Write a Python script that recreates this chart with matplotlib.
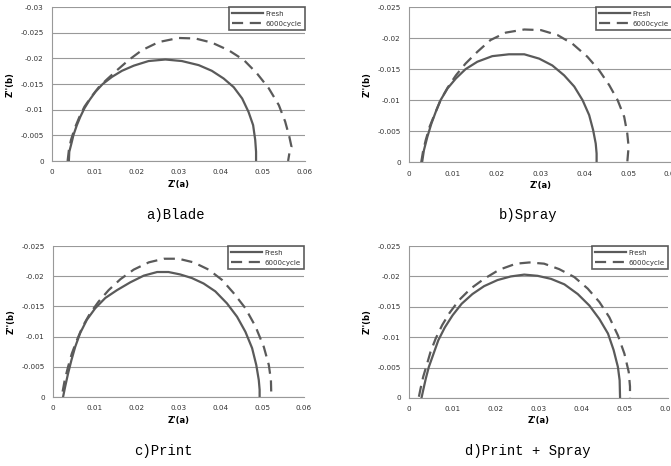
import matplotlib
matplotlib.use("Agg")
import matplotlib.pyplot as plt

# Nyquist data: Z'(a) and Z''(b), for each coating method
blade_fresh_x = [0.0040, 0.0041, 0.0046, 0.0051, 0.0059, 0.0067, 0.0077, 0.0089, 0.0103, 0.0120, 0.0142, 0.0166, 0.0194,
                 0.0229, 0.0269, 0.0308, 0.0348, 0.0379, 0.0407, 0.0431, 0.0451, 0.0466, 0.0477, 0.0482, 0.0484, 0.0484]
blade_fresh_y = [0.0, -0.0018, -0.0034, -0.0051, -0.0070, -0.0086, -0.0103, -0.0119, -0.0135, -0.0150, -0.0164, -0.0176, -0.0186,
                 -0.0195, -0.0198, -0.0195, -0.0187, -0.0176, -0.0161, -0.0144, -0.0122, -0.0096, -0.0070, -0.0041, -0.0018, 0.0]
blade_cyc_x = [0.0037, 0.0040, 0.0045, 0.0054, 0.0065, 0.0077, 0.0093, 0.0111, 0.0130, 0.0154, 0.0182, 0.0213, 0.0253,
               0.0300, 0.0340, 0.0379, 0.0419, 0.0455, 0.0486, 0.0514, 0.0538, 0.0553, 0.0563, 0.0568, 0.0563, 0.0560]
blade_cyc_y = [0.0, -0.0021, -0.0041, -0.0064, -0.0086, -0.0106, -0.0125, -0.0144, -0.0159, -0.0177, -0.0197, -0.0216, -0.0232,
               -0.0240, -0.0239, -0.0231, -0.0216, -0.0197, -0.0171, -0.0142, -0.0109, -0.0077, -0.0047, -0.0028, -0.0015, 0.0]

spray_fresh_x = [0.0030, 0.0034, 0.0042, 0.0051, 0.0061, 0.0072, 0.0088, 0.0107, 0.0129, 0.0156, 0.0190, 0.0228,
                 0.0263, 0.0297, 0.0327, 0.0354, 0.0377, 0.0396, 0.0411, 0.0420, 0.0426, 0.0428, 0.0428]
spray_fresh_y = [0.0, -0.0019, -0.0041, -0.0062, -0.0081, -0.0100, -0.0119, -0.0135, -0.0150, -0.0162, -0.0171, -0.0174,
                 -0.0174, -0.0167, -0.0156, -0.0140, -0.0122, -0.0100, -0.0076, -0.0052, -0.0030, -0.0014, 0.0]
spray_cyc_x = [0.0028, 0.0032, 0.0038, 0.0047, 0.0059, 0.0072, 0.0088, 0.0107, 0.0129, 0.0156, 0.0186, 0.0221,
               0.0263, 0.0301, 0.0339, 0.0373, 0.0407, 0.0434, 0.0457, 0.0476, 0.0491, 0.0498, 0.0501, 0.0498]
spray_cyc_y = [0.0, -0.0017, -0.0035, -0.0057, -0.0078, -0.0100, -0.0120, -0.0140, -0.0159, -0.0178, -0.0197, -0.0209,
               -0.0214, -0.0213, -0.0205, -0.0191, -0.0170, -0.0148, -0.0124, -0.0100, -0.0073, -0.0046, -0.0025, 0.0]

print_fresh_x = [0.0024, 0.0029, 0.0036, 0.0044, 0.0053, 0.0065, 0.0081, 0.0101, 0.0125, 0.0153, 0.0185, 0.0217, 0.0249,
                 0.0276, 0.0304, 0.0332, 0.0360, 0.0388, 0.0416, 0.0440, 0.0460, 0.0476, 0.0486, 0.0492, 0.0494, 0.0494]
print_fresh_y = [0.0, -0.0017, -0.0039, -0.0061, -0.0083, -0.0106, -0.0128, -0.0147, -0.0164, -0.0177, -0.0190, -0.0201, -0.0207,
                 -0.0207, -0.0203, -0.0197, -0.0188, -0.0175, -0.0155, -0.0133, -0.0108, -0.0081, -0.0053, -0.0028, -0.0012, 0.0]
print_cyc_x = [0.0023, 0.0028, 0.0036, 0.0045, 0.0057, 0.0071, 0.0089, 0.0109, 0.0133, 0.0161, 0.0193, 0.0229,
               0.0265, 0.0300, 0.0336, 0.0372, 0.0404, 0.0432, 0.0460, 0.0484, 0.0504, 0.0516, 0.0521, 0.0522]
print_cyc_y = [-0.0009, -0.0028, -0.0050, -0.0072, -0.0094, -0.0117, -0.0139, -0.0158, -0.0177, -0.0195, -0.0211, -0.0223,
               -0.0229, -0.0229, -0.0223, -0.0211, -0.0194, -0.0172, -0.0147, -0.0117, -0.0083, -0.0053, -0.0028, 0.0]

ps_fresh_x = [0.0029, 0.0033, 0.0039, 0.0046, 0.0057, 0.0068, 0.0083, 0.0101, 0.0122, 0.0147, 0.0174, 0.0205, 0.0236,
              0.0267, 0.0298, 0.0329, 0.0360, 0.0391, 0.0418, 0.0441, 0.0461, 0.0474, 0.0484, 0.0488, 0.0489]
ps_fresh_y = [0.0, -0.0013, -0.0032, -0.0051, -0.0073, -0.0095, -0.0116, -0.0136, -0.0155, -0.0171, -0.0184, -0.0194, -0.0200,
              -0.0203, -0.0201, -0.0196, -0.0187, -0.0171, -0.0152, -0.0130, -0.0106, -0.0079, -0.0051, -0.0029, 0.0]
ps_cyc_x = [0.0023, 0.0027, 0.0033, 0.0041, 0.0050, 0.0062, 0.0077, 0.0094, 0.0116, 0.0143, 0.0174, 0.0209, 0.0248,
            0.0279, 0.0313, 0.0348, 0.0383, 0.0414, 0.0441, 0.0464, 0.0484, 0.0499, 0.0509, 0.0512, 0.0512]
ps_cyc_y = [-0.0002, -0.0016, -0.0035, -0.0054, -0.0076, -0.0098, -0.0120, -0.0140, -0.0161, -0.0180, -0.0196, -0.0211, -0.0221,
            -0.0223, -0.0221, -0.0212, -0.0199, -0.0180, -0.0158, -0.0133, -0.0103, -0.0073, -0.0043, -0.0019, 0.0]

titles = ["a)Blade", "b)Spray", "c)Print", "d)Print + Spray"]
y_limits = [-0.03, -0.025, -0.025, -0.025]
x_ticks = [0, 0.01, 0.02, 0.03, 0.04, 0.05, 0.06]
x_ticklabels = ["0", "0.01", "0.02", "0.03", "0.04", "0.05", "0.06"]
legend_labels = ["Fresh", "6000cycle"]

panels = [
    (blade_fresh_x, blade_fresh_y, blade_cyc_x, blade_cyc_y),
    (spray_fresh_x, spray_fresh_y, spray_cyc_x, spray_cyc_y),
    (print_fresh_x, print_fresh_y, print_cyc_x, print_cyc_y),
    (ps_fresh_x, ps_fresh_y, ps_cyc_x, ps_cyc_y),
]

# axes boxes in figure fractions: left, bottom, width, height
boxes = [
    [0.0775, 0.6545, 0.377, 0.330],
    [0.6095, 0.652, 0.392, 0.3326],
    [0.079, 0.148, 0.374, 0.324],
    [0.6095, 0.146, 0.386, 0.326],
]
title_pos = [(175, 215), (528, 215), (163, 451), (528, 451)]

W, H = 671, 466
fig = plt.figure(figsize=(W / 100, H / 100), dpi=100)
line_col = "#5a5a5a"

for i in range(4):
    fx, fy, cx, cy = panels[i]
    ax = fig.add_axes(boxes[i])
    ax.plot(fx, fy, color=line_col, lw=1.6, label=legend_labels[0])
    ax.plot(cx, cy, color=line_col, lw=1.6, ls=(0, (5, 3)), label=legend_labels[1])

    ymin = y_limits[i]
    ax.set_xlim(0, 0.06)
    ax.set_ylim(0, ymin)
    yt = [round(-0.005 * k, 3) for k in range(int(round(-ymin / 0.005)) + 1)]
    ax.set_yticks(yt)
    ax.set_yticklabels(["0" if v == 0 else ("%g" % v) for v in yt])
    ax.set_xticks(x_ticks)
    ax.set_xticklabels(x_ticklabels)
    ax.tick_params(length=0, labelsize=5.2, colors="#333333", pad=6)
    ax.yaxis.grid(True, color="#999999", lw=0.8)
    ax.set_axisbelow(True)
    for s in ["top", "right"]:
        ax.spines[s].set_visible(False)
    ax.spines["left"].set_color("#999999")
    ax.spines["bottom"].set_color("#999999")
    ax.set_xlabel("Z'(a)", fontsize=6, fontweight="bold", labelpad=3)
    ax.set_ylabel("Z''(b)", fontsize=6, fontweight="bold", labelpad=4)

    leg = ax.legend(loc="upper right", bbox_to_anchor=(1.0, 1.0), borderaxespad=0,
                    fontsize=5, frameon=True, fancybox=False, handlelength=4.5,
                    borderpad=0.5, labelspacing=0.6, handletextpad=0.3)
    leg.get_frame().set_edgecolor("#333333")
    leg.get_frame().set_linewidth(1.2)
    for t in leg.get_texts():
        t.set_color("#333333")

    tx, ty = title_pos[i]
    fig.text(tx / W, 1 - ty / H, titles[i], ha="center", va="center",
             fontsize=10, family=["Liberation Mono", "DejaVu Serif"])

fig.savefig("out.png", dpi=100)
